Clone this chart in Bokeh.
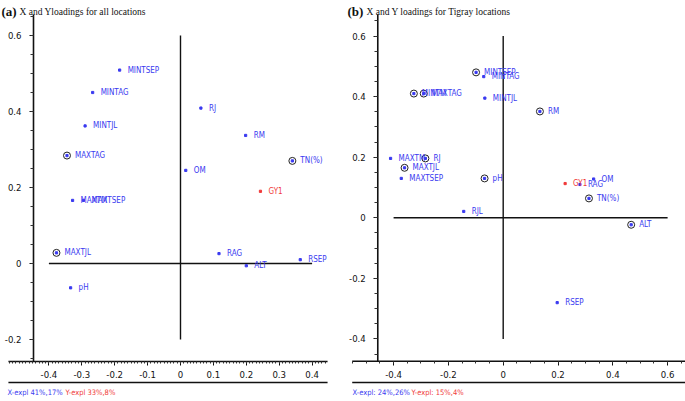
from bokeh.plotting import figure
from bokeh.models import (ColumnDataSource, LinearAxis, FixedTicker, CustomJSTickFormatter,
                          Label, Range1d)
from bokeh.layouts import row
from bokeh.embed import file_html
from bokeh.resources import INLINE
from bokeh.core.properties import value
import numpy as np

# ---------------- Panel (a): all locations ----------------
a_names = ["MINTSEP", "MINTAG", "MINTJL", "MAXTAG", "MAXTM", "MAXTSEP", "MAXTJL", "pH",
           "RJ", "RM", "OM", "TN(%)", "GY1", "RAG", "ALT", "RSEP"]
a_x = [-0.185, -0.267, -0.290, -0.345, -0.328, -0.295, -0.377, -0.334,
       0.062, 0.198, 0.016, 0.340, 0.243, 0.117, 0.200, 0.364]
a_y = [0.509, 0.450, 0.362, 0.284, 0.166, 0.166, 0.028, -0.064,
       0.409, 0.337, 0.245, 0.270, 0.190, 0.026, -0.006, 0.010]
a_circled = ["MAXTAG", "MAXTJL", "TN(%)"]
a_red = ["GY1"]
a_xticks = [-0.4, -0.3, -0.2, -0.1, 0.0, 0.1, 0.2, 0.3, 0.4]
a_yticks = [-0.2, 0.0, 0.2, 0.4, 0.6]
a_title = ["(a)", "X and Yloadings for all locations"]
a_expl = ["X-expl 41%,17%", "Y-expl 33%,8%"]
a_hline = [-0.4, 0.4]
a_vline = [-0.2, 0.6]

# ---------------- Panel (b): Tigray locations ----------------
b_names = ["MINTSEP", "MINTAG", "MINTJL", "MINTM", "MAXTAG", "RM", "MAXTM", "RJ", "MAXTJL",
           "MAXTSEP", "pH", "GY1", "RAG", "OM", "TN(%)", "RJL", "ALT", "RSEP"]
b_x = [-0.099, -0.071, -0.067, -0.326, -0.290, 0.134, -0.411, -0.284, -0.360,
       -0.372, -0.068, 0.226, 0.280, 0.330, 0.313, -0.144, 0.467, 0.197]
b_y = [0.480, 0.466, 0.395, 0.410, 0.410, 0.351, 0.196, 0.196, 0.165,
       0.130, 0.130, 0.113, 0.110, 0.128, 0.064, 0.021, -0.023, -0.280]
b_circled = ["MINTSEP", "MINTM", "MAXTAG", "RM", "RJ", "MAXTJL", "pH", "TN(%)", "ALT"]
b_red = ["GY1"]
b_xticks = [-0.4, -0.2, 0.0, 0.2, 0.4, 0.6]
b_yticks = [-0.4, -0.2, 0.0, 0.2, 0.4, 0.6]
b_title = ["(b)", "X and Y loadings for Tigray  locations"]
b_expl = ["X-expl: 24%,26%", "Y-expl: 15%,4%"]
b_hline = [-0.4, 0.6]
b_vline = [-0.4, 0.6]

BLUE = "#3a3af0"
RED = "#f03a3a"
INK = "#111111"
NARROW = "DejaVu Sans Condensed, DejaVu Sans, sans-serif"
SERIF = "Liberation Serif"

fmt = CustomJSTickFormatter(code="return Math.abs(tick) < 1e-9 ? '0' : tick.toFixed(1);")


def panel(names, xs, ys, circled, red, xticks, xminor_step, yticks, title, expl,
          hline, vline, lay):
    """lay: layout geometry (ranges, axis frame box in data units, text positions in px)."""
    p = figure(width=lay["width"], height=401,
               x_range=Range1d(*lay["xr"]), y_range=Range1d(*lay["yr"]),
               x_axis_type=None, y_axis_type=None, toolbar_location=None,
               output_backend="svg", min_border=0, outline_line_color=None)
    p.grid.visible = False
    bx0, bx1 = lay["box_x"]      # x-axis line extent
    by0, by1 = lay["box_y"]      # y-axis line extent (by0 = x-axis level)
    yax = lay["yaxis_at"]

    xminor = [t for t in np.round(np.arange(-1.0, 1.0, xminor_step), 4) if bx0 <= t <= bx1]
    xa = LinearAxis(ticker=FixedTicker(ticks=xticks, minor_ticks=xminor), formatter=fmt,
                    fixed_location=by0, axis_line_color=None,
                    major_tick_in=0, major_tick_out=4, minor_tick_in=0, minor_tick_out=2,
                    major_tick_line_color=INK, minor_tick_line_color="#333",
                    major_label_standoff=6, major_label_text_font=NARROW,
                    major_label_text_font_size="9.5px", major_label_text_color=INK)
    p.add_layout(xa, "below")

    yminor = [t for t in np.round(np.arange(-1.0, 1.0, 0.05), 4) if by0 <= t <= by1]
    ya = LinearAxis(ticker=FixedTicker(ticks=yticks, minor_ticks=yminor), formatter=fmt,
                    fixed_location=yax, axis_line_color=None,
                    major_tick_in=0, major_tick_out=4, minor_tick_in=0, minor_tick_out=3,
                    major_tick_line_color=INK, minor_tick_line_color="#333",
                    major_label_standoff=8, major_label_text_font=NARROW,
                    major_label_text_font_size="9.5px", major_label_text_color=INK)
    p.add_layout(ya, "left")

    # axis frame lines
    p.line(x=[bx0, bx1], y=[by0, by0], line_color=INK, line_width=1.6)
    p.line(x=[bx0, bx1], y=[lay["line2_y"]] * 2, line_color=INK, line_width=1.6)
    p.line(x=[yax, yax], y=[by0, by1], line_color=INK, line_width=1.6)

    # reference cross lines
    p.line(x=hline, y=[0, 0], line_color=INK, line_width=1.4)
    p.line(x=[0, 0], y=vline, line_color=INK, line_width=1.4)

    colors = [RED if n in red else BLUE for n in names]
    src = ColumnDataSource(dict(x=xs, y=ys, name=names, color=colors))
    cx = [x for x, n in zip(xs, names) if n in circled]
    cy = [y for y, n in zip(ys, names) if n in circled]
    p.scatter(x=cx, y=cy, marker="circle", size=7, fill_color=None,
              line_color="#222", line_width=1)
    p.scatter("x", "y", source=src, marker="square", size=2.2, color="color")
    p.text("x", "y", text="name", source=src, x_offset=8, text_baseline="middle",
           text_color="color", text_font=value(NARROW), text_font_size="8px")

    tx = lay["title_x"]
    p.add_layout(Label(x=tx[0], y=390, x_units="screen", y_units="screen", text=title[0],
                       text_font=SERIF, text_font_style="bold", text_font_size="13px",
                       text_baseline="alphabetic", text_color=INK))
    p.add_layout(Label(x=tx[1], y=390, x_units="screen", y_units="screen",
                       text=title[1], text_font=SERIF, text_font_size="9.5px",
                       text_baseline="alphabetic", text_color=INK))
    ex = lay["expl_x"]
    p.add_layout(Label(x=ex[0], y=9, x_units="screen", y_units="screen", text=expl[0],
                       text_font=NARROW, text_font_size="7.5px", text_baseline="middle",
                       text_color=BLUE))
    p.add_layout(Label(x=ex[1], y=9, x_units="screen", y_units="screen",
                       text=expl[1], text_font=NARROW, text_font_size="7.5px",
                       text_baseline="middle", text_color=RED))
    return p


lay_a = dict(width=337, xr=(-0.5471, 0.4772), yr=(-0.3632, 0.6921),
             box_x=(-0.523, 0.447), box_y=(-0.2579, 0.6553), yaxis_at=-0.4468,
             line2_y=-0.3132, title_x=(1, 19), expl_x=(7, 65))
lay_b = dict(width=348, xr=(-0.6047, 0.6653), yr=(-0.6063, 0.7172),
             box_x=(-0.551, 0.665), box_y=(-0.4733, 0.6706), yaxis_at=-0.4577,
             line2_y=-0.5436, title_x=(10, 29), expl_x=(15, 74))

pa = panel(a_names, a_x, a_y, a_circled, a_red, a_xticks, 0.01, a_yticks, a_title, a_expl,
           a_hline, a_vline, lay_a)
pb = panel(b_names, b_x, b_y, b_circled, b_red, b_xticks, 0.05, b_yticks, b_title, b_expl,
           b_hline, b_vline, lay_b)

layout = row(pa, pb)
open("out.html", "w").write(file_html(layout, INLINE))
